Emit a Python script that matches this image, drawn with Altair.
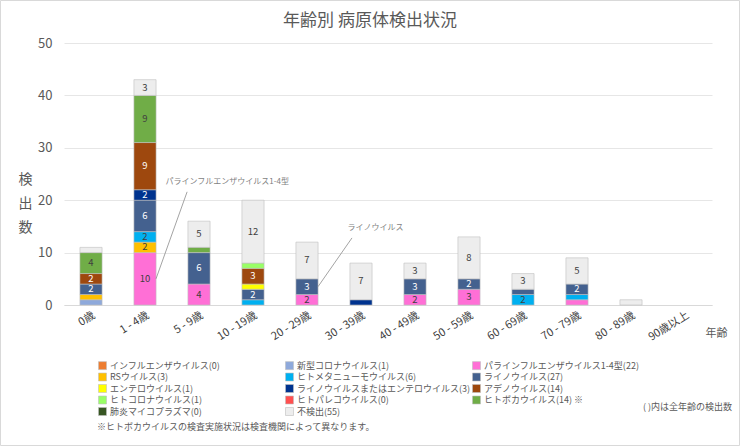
import altair as alt
import pandas as pd

FONT = "Noto Sans CJK JP"

ages = ["0歳", "1 - 4歳", "5 - 9歳", "10 - 19歳", "20 - 29歳", "30 - 39歳",
        "40 - 49歳", "50 - 59歳", "60 - 69歳", "70 - 79歳", "80 - 89歳", "90歳以上"]

# counts per age group for each pathogen (stack order bottom -> top)
influenza    = [0, 0, 0, 0, 0, 0, 0, 0, 0, 0, 0, 0]
covid        = [1, 0, 0, 0, 0, 0, 0, 0, 0, 0, 0, 0]
parainflu    = [0, 10, 4, 0, 2, 0, 2, 3, 0, 1, 0, 0]
rsv          = [1, 2, 0, 0, 0, 0, 0, 0, 0, 0, 0, 0]
hmpv         = [0, 2, 0, 1, 0, 0, 0, 0, 2, 1, 0, 0]
rhino        = [2, 6, 6, 2, 3, 0, 3, 2, 1, 2, 0, 0]
entero       = [0, 0, 0, 1, 0, 0, 0, 0, 0, 0, 0, 0]
rhino_entero = [0, 2, 0, 0, 0, 1, 0, 0, 0, 0, 0, 0]
adeno        = [2, 9, 0, 3, 0, 0, 0, 0, 0, 0, 0, 0]
hcov         = [0, 0, 0, 1, 0, 0, 0, 0, 0, 0, 0, 0]
parecho      = [0, 0, 0, 0, 0, 0, 0, 0, 0, 0, 0, 0]
boca         = [4, 9, 1, 0, 0, 0, 0, 0, 0, 0, 0, 0]
mycoplasma   = [0, 0, 0, 0, 0, 0, 0, 0, 0, 0, 0, 0]
not_detected = [1, 3, 5, 12, 7, 7, 3, 8, 3, 5, 1, 0]

series_names = ["インフルエンザウイルス", "新型コロナウイルス", "パラインフルエンザウイルス1-4型",
                "RSウイルス", "ヒトメタニューモウイルス", "ライノウイルス", "エンテロウイルス",
                "ライノウイルスまたはエンテロウイルス", "アデノウイルス", "ヒトコロナウイルス",
                "ヒトパレコウイルス", "ヒトボカウイルス", "肺炎マイコプラズマ", "不検出"]
series_values = [influenza, covid, parainflu, rsv, hmpv, rhino, entero, rhino_entero,
                 adeno, hcov, parecho, boca, mycoplasma, not_detected]
series_notes = ["", "", "", "", "", "", "", "", "", "", "", " ※", "", ""]
colors = ["#ED7D31", "#8EA9DB", "#FF6FD6", "#FFC000", "#00B0F0", "#44618F", "#FFFF00",
          "#00338F", "#9E480E", "#99FF66", "#FF5050", "#70AD47", "#375623", "#EDEDED"]
dark_series = ["ライノウイルス", "ライノウイルスまたはエンテロウイルス", "アデノウイルス"]

title_text = "年齢別 病原体検出状況"
note_text = "※ヒトボカウイルスの検査実施状況は検査機関によって異なります。"
count_note = "( )内は全年齢の検出数"
annotations = ["パラインフルエンザウイルス1-4型", "ライノウイルス"]
# leader lines in category-index units (x) and count units (y)
ann_x0 = [1.704, 4.704]
ann_y0 = [5.0, 3.5]
ann_x1 = [2.28, 5.333]
ann_y1 = [21.6, 12.8]
ann_tx = [1.88, 5.25]
ann_ty = [23.4, 14.6]

labels = [f"{n}({sum(v)}){s}" for n, v, s in zip(series_names, series_values, series_notes)]

rows = []
for si, (name, lab, vals) in enumerate(zip(series_names, labels, series_values)):
    for age, v in zip(ages, vals):
        rows.append({"age": age, "series": lab, "name": name, "order": si, "value": v})
df = pd.DataFrame(rows)
ann_df = pd.DataFrame({"text": annotations, "x0": ann_x0, "y0": ann_y0,
                       "x1": ann_x1, "y1": ann_y1, "tx": ann_tx, "ty": ann_ty})

band = alt.Scale(domain=ages, paddingInner=0.59, paddingOuter=0.295)
yscale = alt.Scale(domain=[0, 50], nice=False)

bars = alt.Chart(df).transform_filter("datum.value > 0").mark_bar(
    stroke="#BFBFBF", strokeWidth=0.6
).encode(
    x=alt.X("age:N", sort=ages, scale=band, axis=alt.Axis(
        title="年齢", labelAngle=-32, labelAlign="right", labelBaseline="top",
        labelPadding=4, labelFontSize=11, labelColor="#404040", ticks=False,
        domain=True, domainColor="#D9D9D9", grid=False,
        titleX=652, titleY=28, titleAlign="center", titleBaseline="middle",
        titleAngle=0, titleFontSize=11, titleFontWeight="normal", titleColor="#595959")),
    y=alt.Y("value:Q", stack="zero", scale=yscale, axis=alt.Axis(
        values=list(range(0, 51, 5)), title=["検", "出", "数"], titleAngle=0,
        titleX=-39, titleY=136, titleAlign="center", titleBaseline="middle",
        titleLineHeight=24, titleFontSize=14, titleFontWeight="normal",
        titleColor="#595959", labelFontSize=13, labelColor="#595959",
        labelPadding=12, ticks=False, domain=False, gridColor="#E6E6E6")),
    color=alt.Color("series:N", scale=alt.Scale(domain=labels, range=colors),
                    legend=alt.Legend(orient="none", legendX=34, legendY=318, columns=3,
                                      direction="horizontal",
                                      title=None, symbolType="square", symbolSize=64,
                                      symbolStrokeColor="#BFBFBF", symbolStrokeWidth=0.6,
                                      labelFontSize=9, labelColor="#595959", labelOffset=3,
                                      labelLimit=400, gridAlign="all", columnPadding=0,
                                      rowPadding=0.5)),
    order=alt.Order("order:Q", sort="ascending"),
)

seg_labels = alt.Chart(df).transform_filter("datum.value > 0").transform_stack(
    stack="value", groupby=["age"], sort=[alt.SortField("order", order="ascending")],
    as_=["s0", "s1"]
).transform_calculate(mid="(datum.s0 + datum.s1) / 2").transform_filter(
    "datum.value >= 2"
).mark_text(fontSize=9.5).encode(
    x=alt.X("age:N", sort=ages, scale=band, axis=None),
    y=alt.Y("mid:Q", scale=yscale),
    text=alt.Text("value:Q"),
    color=alt.condition(alt.FieldOneOfPredicate(field="name", oneOf=dark_series),
                        alt.value("#FFFFFF"), alt.value("#404040")),
)

xq = alt.Scale(domain=[0, len(ages)], nice=False, zero=False)
leaders = alt.Chart(ann_df).mark_rule(color="#8C8C8C", strokeWidth=0.8).encode(
    x=alt.X("x0:Q", scale=xq, axis=None), x2="x1:Q",
    y=alt.Y("y0:Q", scale=yscale), y2="y1:Q",
)
ann_text = alt.Chart(ann_df).mark_text(align="left", baseline="middle", fontSize=8,
                                       color="#7F7F7F").encode(
    x=alt.X("tx:Q", scale=xq, axis=None),
    y=alt.Y("ty:Q", scale=yscale),
    text="text:N",
)

note1 = alt.Chart(pd.DataFrame({"t": [note_text]})).mark_text(
    align="left", baseline="middle", fontSize=9, color="#595959"
).encode(x=alt.value(33), y=alt.value(384), text="t:N")
note2 = alt.Chart(pd.DataFrame({"t": [count_note]})).mark_text(
    align="right", baseline="middle", fontSize=9, color="#595959"
).encode(x=alt.value(668), y=alt.value(364), text="t:N")

frame = alt.Chart(pd.DataFrame({"f": [0]})).mark_rect(
    filled=False, stroke="#D9D9D9", strokeWidth=1
).encode(x=alt.value(-63.5), x2=alt.value(675.5), y=alt.value(-42.5), y2=alt.value(402.5))

chart = alt.layer(frame, bars, seg_labels, leaders, ann_text, note1, note2).resolve_scale(
    x="independent"
).properties(
    width=648, height=262,
    padding={"left": 64, "top": 43, "right": 28, "bottom": 141},
    autosize=alt.AutoSizeParams(type="none"),
    title=alt.TitleParams(title_text, fontSize=17, fontWeight="normal", color="#595959",
                          offset=-30, dx=-18, anchor="middle", frame="group"),
).configure(font=FONT).configure_view(stroke=None)

chart.save("out.html", embed_options={"renderer": "svg", "actions": False})
